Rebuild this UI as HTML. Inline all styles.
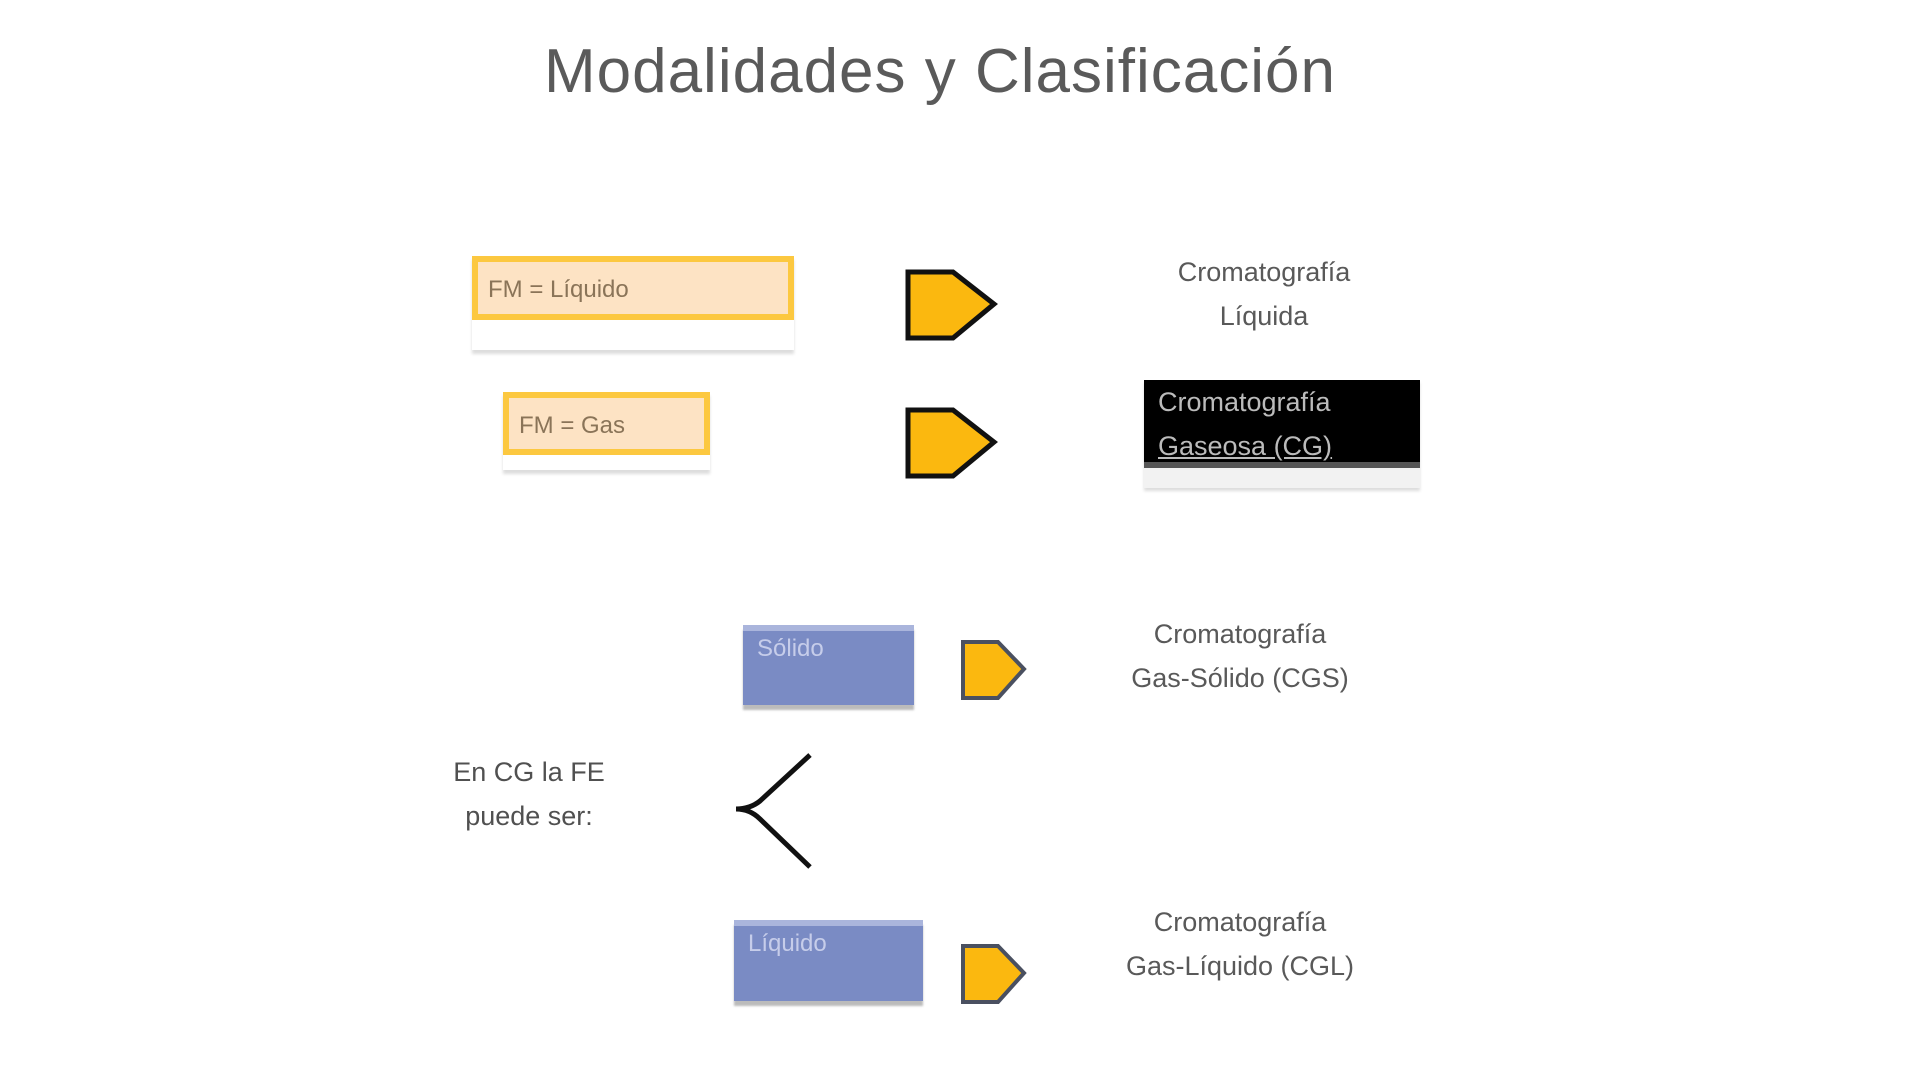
<!DOCTYPE html>
<html><head><meta charset="utf-8"><style>
body{margin:0;width:1920px;height:1080px;background:#fff;position:relative;overflow:hidden;font-family:"Liberation Sans",sans-serif;}
.a{position:absolute;}
.t{color:#595959;font-size:27px;line-height:44px;text-align:center;}
.ob{background:#fde3c4;border:6px solid #fcc840;box-sizing:border-box;color:#8a7458;font-size:24px;padding:14px 10px 0;}
.sh{background:#fff;box-shadow:0 4px 3px #ddd;}
.pb{background:#7a8bc4;border-top:6px solid #aab5dc;color:#c6cdea;font-size:24px;padding:4px 14px;box-sizing:border-box;box-shadow:0 5px 2px #bbb;}
</style></head><body>
<div class="a" style="left:0;width:1880px;top:36px;text-align:center;font-size:62px;color:#5a5a5a;letter-spacing:1px;">Modalidades y Clasificación</div>

<div class="a sh" style="left:472px;top:256px;width:322px;height:94px;"></div>
<div class="a ob" style="left:472px;top:256px;width:322px;height:64px;">FM = Líquido</div>
<div class="a sh" style="left:503px;top:392px;width:207px;height:78px;"></div>
<div class="a ob" style="left:503px;top:392px;width:207px;height:63px;">FM = Gas</div>

<svg class="a" style="left:0;top:0" width="1920" height="1080">
<polygon points="908,272 953,272 994,304 953,338 908,338" fill="#fbb80f" stroke="#111" stroke-width="5"/>
<polygon points="908,410 953,410 994,442 953,476 908,476" fill="#fbb80f" stroke="#111" stroke-width="5"/>
<polygon points="963,642 998,642 1024,669 998,698 963,698" fill="#fbb80f" stroke="#4a5060" stroke-width="4"/>
<polygon points="963,946 998,946 1024,973 998,1002 963,1002" fill="#fbb80f" stroke="#4a5060" stroke-width="4"/>
<path d="M810,755 L760,801 Q750,809 736,809 Q750,809 760,819 L810,867" fill="none" stroke="#111" stroke-width="5"/>
</svg>

<div class="a t" style="left:1134px;top:250px;width:260px;">Cromatografía<br>Líquida</div>

<div class="a" style="left:1144px;top:380px;width:276px;height:108px;background:#f2f2f2;box-shadow:0 3px 3px #ddd;"></div>
<div class="a" style="left:1144px;top:380px;width:276px;height:88px;background:#000;border-bottom:6px solid #555;box-sizing:border-box;color:#bbb;font-size:27px;line-height:44px;padding:0 14px;">Cromatografía<br><u>Gaseosa (CG)</u></div>

<div class="a pb" style="left:743px;top:625px;width:171px;height:80px;">Sólido</div>
<div class="a pb" style="left:734px;top:920px;width:189px;height:81px;">Líquido</div>

<div class="a t" style="left:1109px;top:612px;width:262px;">Cromatografía<br>Gas-Sólido (CGS)</div>
<div class="a t" style="left:1102px;top:900px;width:276px;">Cromatografía<br>Gas-Líquido (CGL)</div>

<div class="a t" style="left:434px;top:750px;width:190px;color:#505050;">En CG la FE<br>puede ser:</div>
</body></html>
